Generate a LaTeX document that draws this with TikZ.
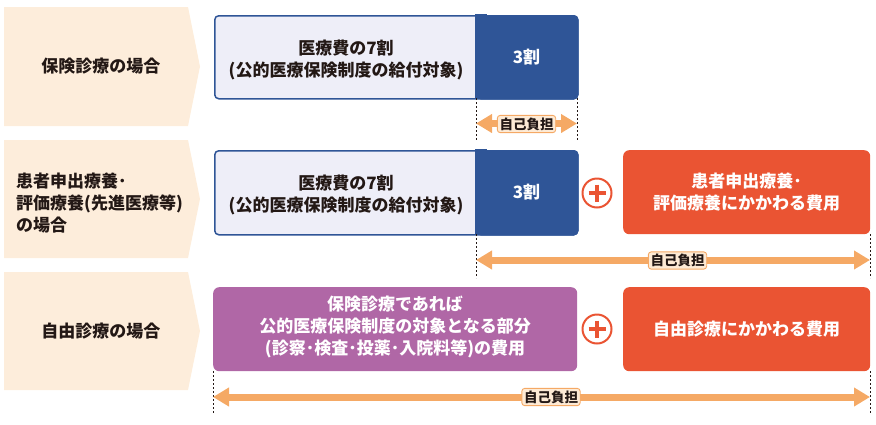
\documentclass[tikz,border=0pt]{standalone}
\usepackage{fontspec}
\setmainfont{Noto Sans CJK JP}
\usetikzlibrary{arrows.meta}
\definecolor{chev}{HTML}{FDEDDB}
\definecolor{lightfill}{HTML}{EEEEF8}
\definecolor{navy}{HTML}{2F5597}
\definecolor{redbox}{HTML}{EA5433}
\definecolor{purplebox}{HTML}{B067A6}
\definecolor{orangeline}{HTML}{F5A965}
\definecolor{lblfill}{HTML}{FDEAD5}
\definecolor{txt}{HTML}{231815}
\tikzset{
  chevtext/.style={font=\fontsize{17}{22}\selectfont\bfseries, text=txt, align=center, inner sep=0pt},
  boxtext/.style={font=\fontsize{17}{22}\selectfont\bfseries, text=txt, align=center, inner sep=0pt},
  whitetext/.style={font=\fontsize{17}{22}\selectfont\bfseries, text=white, align=center, inner sep=0pt},
  lightbox/.style={draw=navy, fill=lightfill, line width=1.5pt, rounded corners=4pt, anchor=north west, inner sep=0pt},
  darkbox/.style={draw=navy, fill=navy, line width=1.5pt, rounded corners=4pt, anchor=north west, inner sep=0pt},
  colbox/.style={rounded corners=6pt, anchor=north west, inner sep=0pt},
  plusnode/.style={circle, draw=redbox, fill=white, line width=2pt, minimum size=29pt, inner sep=0pt},
  plusline/.style={draw=redbox, line width=3.6pt},
  lbl/.style={draw=orangeline, fill=lblfill, rounded corners=3pt, line width=0.9pt, inner sep=2.2pt, font=\fontsize{13.5}{15}\selectfont\bfseries, text=txt},
  dashln/.style={line width=0.6pt, dash pattern=on 2pt off 2pt, draw=txt},
  costarrow/.style={draw=orangeline, line width=7pt, {Triangle[width=18pt,length=16pt]}-{Triangle[width=18pt,length=16pt]}}
}
\begin{document}
\begin{tikzpicture}[x=1pt,y=-1pt]
\useasboundingbox (0,0) rectangle (876,424);
% chevrons
\fill[chev] (4,7) -- (188,7) -- (200,66.5) -- (188,126) -- (4,126) -- cycle;
\fill[chev] (4,140) -- (188,140) -- (200,199) -- (188,258) -- (4,258) -- cycle;
\fill[chev] (4,272) -- (188,272) -- (200,331) -- (188,390) -- (4,390) -- cycle;
\node[chevtext] (c1) at (101,66.5) {保険診療の場合};
\node[chevtext, align=left, anchor=west] (c2) at (16,203) {患者申出療養･\\評価療養(先進医療等)\\の場合};
\node[chevtext] (c3) at (101,331) {自由診療の場合};

% row 1
\node[lightbox, minimum width=363pt, minimum height=83pt] (b1) at (214,15) {};
\node[darkbox, minimum width=101pt, minimum height=83pt] (d1) at (476,15) {};
\filldraw[navy, line width=1.5pt] (476,15) rectangle (486,98);
\node[boxtext] (t1) at (346,60) {医療費の7割\\(公的医療保険制度の給付対象)};
\node[whitetext] (s1) at (526.5,57) {3割};
\coordinate (l1a) at (476,98); \coordinate (l1b) at (476,141);
\coordinate (r1a) at (577,98); \coordinate (r1b) at (577,141);
\draw[dashln] (l1a) -- (l1b);
\draw[dashln] (r1a) -- (r1b);
\coordinate (a1l) at (476,123.5); \coordinate (a1r) at (577,123.5);
\draw[costarrow] (a1l) -- (a1r);
\node[lbl] (k1) at (526.5,124) {自己負担};

% row 2
\node[lightbox, minimum width=363pt, minimum height=84pt] (b2) at (214,150) {};
\node[darkbox, minimum width=101pt, minimum height=84pt] (d2) at (476,150) {};
\filldraw[navy, line width=1.5pt] (476,150) rectangle (486,234);
\node[boxtext] (t2) at (346,195) {医療費の7割\\(公的医療保険制度の給付対象)};
\node[whitetext] (s2) at (526.5,192) {3割};
\node[plusnode] (p2) at (597,193) {};
\draw[plusline] (p2.center) ++(-8.5,0) -- ++(17,0);
\draw[plusline] (p2.center) ++(0,-8.5) -- ++(0,17);
\node[colbox, fill=redbox, minimum width=247pt, minimum height=84pt] (e2) at (623,150) {};
\node[whitetext] (e2t) at (746.5,192) {患者申出療養･\\評価療養にかかわる費用};
\coordinate (l2a) at (476,234); \coordinate (l2b) at (476,278);
\coordinate (r2a) at (870,234); \coordinate (r2b) at (870,278);
\draw[dashln] (l2a) -- (l2b);
\draw[dashln] (r2a) -- (r2b);
\coordinate (a2l) at (476,260); \coordinate (a2r) at (870,260);
\draw[costarrow] (a2l) -- (a2r);
\node[lbl] (k2) at (677.5,260.5) {自己負担};

% row 3
\node[colbox, fill=purplebox, minimum width=364pt, minimum height=84pt] (f3) at (213,287) {};
\node[whitetext] (f3t) at (395,327) {保険診療であれば\\公的医療保険制度の対象となる部分\\(診察･検査･投薬･入院料等)の費用};
\node[plusnode] (p3) at (597,329) {};
\draw[plusline] (p3.center) ++(-8.5,0) -- ++(17,0);
\draw[plusline] (p3.center) ++(0,-8.5) -- ++(0,17);
\node[colbox, fill=redbox, minimum width=247pt, minimum height=84pt] (e3) at (623,287) {};
\node[whitetext] (e3t) at (746.5,329) {自由診療にかかわる費用};
\coordinate (l3a) at (213,371); \coordinate (l3b) at (213,413);
\coordinate (r3a) at (870,371); \coordinate (r3b) at (870,413);
\draw[dashln] (l3a) -- (l3b);
\draw[dashln] (r3a) -- (r3b);
\coordinate (a3l) at (213,397); \coordinate (a3r) at (870,397);
\draw[costarrow] (a3l) -- (a3r);
\node[lbl] (k3) at (551,397) {自己負担};
\end{tikzpicture}
\end{document}
